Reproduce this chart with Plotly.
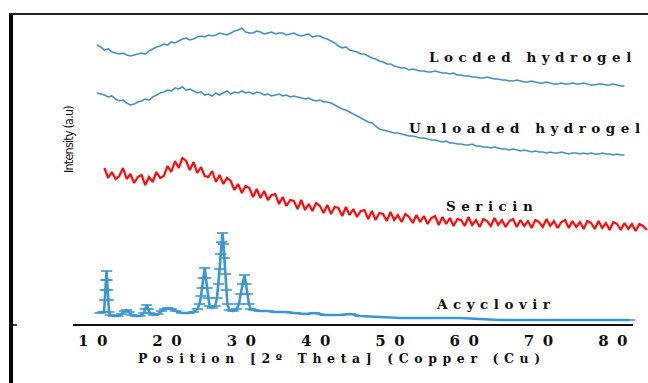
import numpy as np
import plotly.graph_objects as go

# ---------------- data (2-theta in degrees, intensity in arbitrary units, stacked) ----------------
loaded_start, step = 10.0, 0.5
loaded_y = [279, 277, 274, 275, 272, 271, 270, 271, 269, 268, 269, 270, 271, 270, 273, 275, 277, 278, 280, 279,
            282, 281, 283, 285, 286, 284, 285, 287, 288, 287, 289, 288, 289, 291, 290, 289, 291, 293, 294, 296,
            292, 291, 291, 293, 292, 290, 291, 292, 290, 291, 291, 289, 290, 291, 289, 288, 289, 290, 287, 288,
            288, 286, 285, 283, 281, 278, 276, 277, 274, 273, 272, 270, 270, 268, 266, 265, 263, 262, 260, 260,
            258, 257, 256, 256, 254, 255, 254, 253, 253, 252, 252, 253, 252, 251, 251, 250, 251, 249, 249, 248,
            248, 247, 247, 246, 246, 247, 246, 245, 245, 244, 244, 243, 243, 244, 243, 242, 242, 243, 242, 241,
            241, 242, 241, 240, 240, 241, 240, 240, 241, 240, 240, 241, 240, 239, 239, 240, 240, 239, 239, 240,
            239, 238, 238]

unloaded_start = 10.0
unloaded_y = [231, 230, 229, 227, 228, 225, 223, 224, 221, 219, 220, 222, 223, 225, 224, 227, 229, 231, 232, 234,
              233, 236, 235, 237, 234, 235, 233, 231, 232, 229, 230, 228, 231, 229, 231, 233, 230, 232, 231, 233,
              231, 232, 230, 232, 231, 229, 230, 228, 229, 230, 228, 229, 227, 228, 227, 226, 225, 226, 224, 223,
              224, 222, 222, 221, 219, 217, 215, 214, 212, 210, 208, 206, 204, 202, 201, 198, 195, 194, 193, 192,
              191, 191, 190, 189, 188, 188, 187, 186, 186, 185, 184, 184, 183, 182, 183, 181, 181, 180, 180, 179,
              179, 180, 178, 178, 177, 177, 176, 177, 176, 175, 175, 174, 175, 174, 173, 174, 173, 172, 173, 172,
              172, 171, 172, 171, 171, 172, 171, 170, 171, 171, 170, 171, 170, 171, 170, 170, 171, 170, 170, 169,
              170, 169, 169]

sericin_start = 11.0
sericin_y = [156, 146, 152, 145, 148, 156, 145, 150, 141, 147, 149, 139, 147, 142, 152, 146, 148, 158, 152, 163,
             156, 166, 163, 154, 162, 151, 157, 148, 147, 153, 142, 149, 140, 146, 143, 134, 140, 131, 138, 136,
             127, 135, 126, 133, 124, 129, 130, 120, 127, 118, 124, 123, 115, 124, 114, 120, 113, 121, 118, 111,
             119, 110, 117, 116, 108, 117, 109, 115, 107, 113, 114, 105, 113, 104, 111, 110, 103, 112, 104, 109,
             102, 110, 107, 101, 109, 102, 108, 100, 106, 108, 99, 107, 100, 106, 98, 105, 104, 98, 107, 99,
             104, 97, 105, 103, 98, 106, 99, 104, 97, 103, 105, 97, 104, 98, 103, 96, 104, 102, 97, 105,
             98, 103, 96, 102, 104, 96, 103, 97, 102, 95, 103, 101, 95, 103, 96, 101, 94, 102, 100, 94,
             101, 95, 100, 93, 100, 98, 94]

acyclovir_x = [10.4, 10.8, 10.95, 11.05, 11.12, 11.2, 11.28, 11.36, 11.44, 11.52, 11.62, 11.8, 12.2, 12.8, 13.3,
               13.7, 14.0, 14.3, 14.7, 15.2, 15.8, 16.3, 16.5, 16.7, 16.9, 17.1, 17.6, 18.2, 18.7, 19.1, 19.5,
               20.0, 20.6, 21.4, 22.4, 23.0, 23.5, 23.8, 24.0, 24.15, 24.3, 24.5, 24.65, 24.8, 24.95, 25.15, 25.5,
               25.9, 26.15, 26.35, 26.5, 26.65, 26.78, 26.9, 27.02, 27.15, 27.28, 27.4, 27.55, 27.8, 28.3, 28.8,
               29.1, 29.35, 29.6, 29.85, 30.05, 30.25, 30.45, 30.7, 31.1, 31.9, 33.0, 34.0, 35.3, 36.6, 38.0,
               39.3, 40.7, 42.7, 44.1, 45.4, 48.1, 50.8, 54.8, 58.9, 61.5, 64.2, 69.6, 75.0, 79.0, 81.7]
acyclovir_y = [11, 12, 12, 24, 34, 44, 53, 44, 34, 24, 12, 9, 8, 8, 10,
               13, 14, 12, 9, 8, 8, 11, 15, 19, 15, 11, 9, 10, 13, 15, 16,
               15, 13, 11, 11, 12, 15, 20, 28, 36, 46, 56, 46, 36, 26, 18, 16,
               18, 26, 40, 55, 70, 82, 91, 80, 66, 50, 34, 20, 14, 13, 15,
               20, 30, 40, 49, 40, 30, 20, 15, 14, 13, 13, 12, 12, 11, 10,
               11, 9, 9, 10, 8, 7, 6, 6, 6, 5, 4, 4, 4, 4, 4]

series_labels = ["Locded hydrogel", "Unloaded hydrogel", "Sericin", "Acyclovir"]
label_x = [68.7, 67.9, 63.1, 63.6]
label_y = [267, 196, 118, 20]

tick_vals = [10, 20, 30, 40, 50, 60, 70, 80]
tick_labels = ["10", "20", "30", "40", "50", "60", "70", "80"]
x_title = "Position [2º Theta] (Copper (Cu)"
y_title = "Intensity (a.u)"

# ---------------- figure ----------------
def grid(start, n):
    return np.round(start + step * np.arange(n), 2)

BLUE = "#3f90cd"
ACY = "#3a97d6"
RED = "#ff0a0a"

fig = go.Figure()
fig.add_trace(go.Scatter(x=grid(loaded_start, len(loaded_y)), y=loaded_y, mode="lines",
                         line=dict(color=BLUE, width=1.6), name=series_labels[0]))
fig.add_trace(go.Scatter(x=grid(unloaded_start, len(unloaded_y)), y=unloaded_y, mode="lines",
                         line=dict(color=BLUE, width=1.6), name=series_labels[1]))
fig.add_trace(go.Scatter(x=grid(sericin_start, len(sericin_y)), y=sericin_y, mode="lines",
                         line=dict(color=RED, width=2.2), name=series_labels[2]))
fig.add_trace(go.Scatter(x=acyclovir_x, y=acyclovir_y, mode="lines+markers",
                         line=dict(color=ACY, width=2.6),
                         marker=dict(symbol="line-ew", size=8, line=dict(color=ACY, width=1.6)),
                         name=series_labels[3]))

SERIF = "DejaVu Serif, Liberation Serif, serif"

def spaced(t, px):
    return f'<span style="letter-spacing:{px}px">{t}</span>'

annotations = []
for lab, lx, ly in zip(series_labels, label_x, label_y):
    annotations.append(dict(x=lx, y=ly, xref="x", yref="y", text=spaced(lab, 5.5), showarrow=False,
                            xanchor="center", yanchor="middle",
                            font=dict(family=SERIF, size=13.5, color="#111", weight="bold")))
annotations.append(dict(x=(342 - 75) / 573, y=(324 - 359) / 310, xref="paper", yref="paper",
                        text=spaced(x_title, 5.6), showarrow=False, xanchor="center", yanchor="middle",
                        font=dict(family=SERIF, size=12.5, color="#111", weight="bold")))
annotations.append(dict(x=(68 - 75) / 573, y=(324 - 140) / 310, xref="paper", yref="paper",
                        text=spaced(y_title, -0.8), textangle=-90, showarrow=False,
                        xanchor="center", yanchor="middle",
                        font=dict(family="Liberation Sans Narrow, DejaVu Sans Condensed, sans-serif",
                                  size=12.5, color="#111")))

def px_x(p):
    return (p - 75) / 573

def px_y(p):
    return (324 - p) / 310

shapes = [
    dict(type="line", xref="paper", yref="paper", x0=px_x(11), x1=px_x(11), y0=px_y(13), y1=px_y(384),
         line=dict(color="black", width=4)),
    dict(type="line", xref="paper", yref="paper", x0=px_x(9), x1=px_x(648), y0=px_y(14), y1=px_y(14),
         line=dict(color="#222", width=2)),
    dict(type="line", xref="paper", yref="paper", x0=px_x(11), x1=px_x(17), y0=px_y(325), y1=px_y(325),
         line=dict(color="black", width=1.5)),
    dict(type="line", xref="paper", yref="paper", x0=px_x(73), x1=px_x(633), y0=px_y(325), y1=px_y(325),
         line=dict(color="#111", width=2)),
]

fig.update_layout(
    width=648, height=383,
    margin=dict(l=75, r=0, t=14, b=59),
    paper_bgcolor="white", plot_bgcolor="white",
    showlegend=False,
    xaxis=dict(range=[7.04, 84.16], showgrid=False, zeroline=False, showline=False, ticks="",
               tickvals=tick_vals, ticktext=[spaced(t, 8.5) for t in tick_labels],
               tickfont=dict(family=SERIF, size=15, color="#111", weight="bold"),
               ticklabelstandoff=6),
    yaxis=dict(range=[0, 310], visible=False),
    annotations=annotations,
    shapes=shapes,
)

fig.write_html("out.html", config={"displayModeBar": False},
               post_script="document.body.style.margin='0px';")
